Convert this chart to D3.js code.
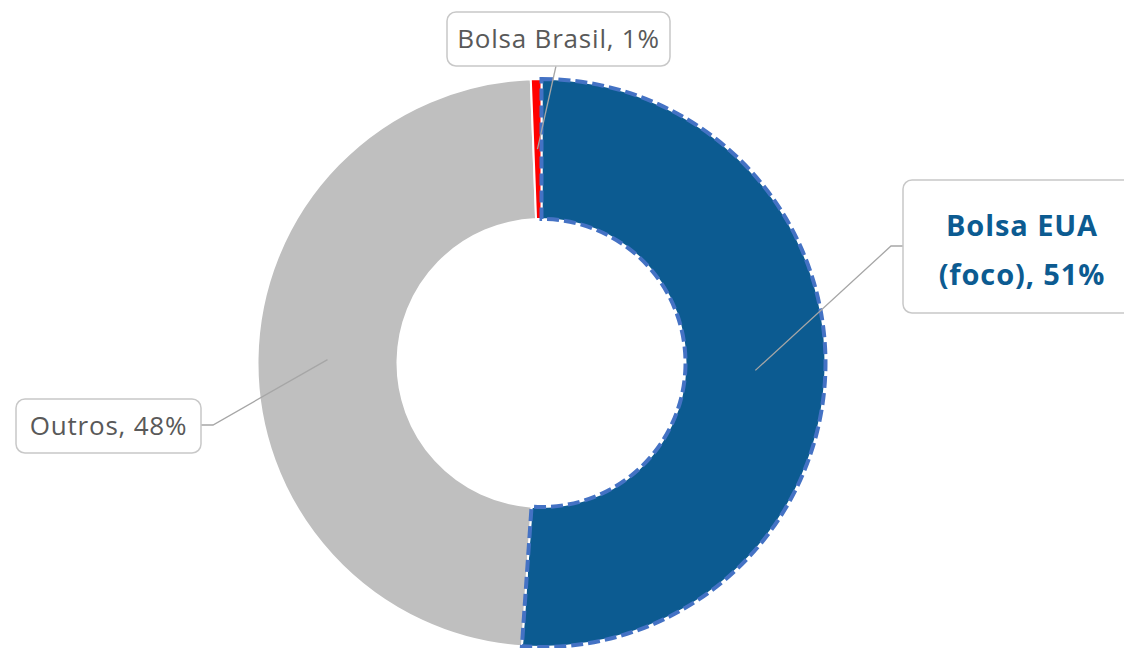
<!DOCTYPE html>
<html>
<head>
<meta charset="utf-8">
<script src="https://cdn.jsdelivr.net/npm/d3@7"></script>
<style>
  body { margin: 0; background: #fff; }
  svg { display: block; font-family: "Open Sans", "Noto Sans", sans-serif; }
</style>
</head>
<body>
<div id="chart"></div>
<script>
// data (clockwise from 12 o'clock)
var categories = ["Bolsa EUA (foco)", "Outros", "Bolsa Brasil"];
var values = [51.1, 48.3, 0.6];
var colors = ["#0c5b91", "#bfbfbf", "#ff0000"];

var width = 1124, height = 648;
var cx = 541.5, cy = 363;
var outerR = 284, innerR = 144;

var svg = d3.select("#chart")
  .append("svg")
  .attr("width", width)
  .attr("height", height);

var g = svg.append("g")
  .attr("transform", "translate(" + cx + "," + cy + ")");

var pie = d3.pie().sort(null).value(function(d) { return d; });
var arc = d3.arc().innerRadius(innerR).outerRadius(outerR);
var arcs = pie(values);

// slices
g.selectAll("path.slice")
  .data(arcs)
  .enter()
  .append("path")
  .attr("class", "slice")
  .attr("d", arc)
  .style("fill", function(d, i) { return colors[i]; })
  .style("stroke", "#fff")
  .style("stroke-width", 2);

// dashed highlight on the focus slice
g.append("path")
  .attr("d", arc(arcs[0]))
  .style("fill", "none")
  .style("stroke", "#4472c4")
  .style("stroke-width", 4)
  .style("stroke-dasharray", "12,5");

// label boxes (x, y, w, h) and where the leader joins the box
var boxes = [
  {x: 903, y: 180, w: 240, h: 133, joinX: 903, joinY: 246, elbowX: 891, bold: true},
  {x: 16, y: 399, w: 185, h: 54, joinX: 201, joinY: 425, elbowX: 213, bold: false},
  {x: 447, y: 12, w: 223, h: 54, joinX: 556, joinY: 66, elbowX: null, bold: false}
];

var labels = svg.append("g");

arcs.forEach(function(a, i) {
  var b = boxes[i];
  var c = arc.centroid(a);
  var px = cx + c[0], py = cy + c[1];
  var pts = [[px, py]];
  if (b.elbowX !== null) pts.push([b.elbowX, b.joinY]);
  pts.push([b.joinX, b.joinY]);

  labels.append("path")
    .attr("d", d3.line()(pts))
    .style("fill", "none")
    .style("stroke", "#a6a6a6")
    .style("stroke-width", 1.3);

  labels.append("rect")
    .attr("x", b.x).attr("y", b.y)
    .attr("width", b.w).attr("height", b.h)
    .attr("rx", 9)
    .style("fill", "#fff")
    .style("stroke", "#c8c8c8")
    .style("stroke-width", 1.5);

  var pct = Math.round(values[i]) + "%";
  var t = labels.append("text")
    .attr("text-anchor", "middle")
    .style("font-size", b.bold ? "29px" : "26px")
    .style("letter-spacing", b.bold ? "0.9px" : "0.8px")
    .style("font-weight", b.bold ? 700 : 400)
    .style("fill", b.bold ? colors[0] : "#595959");

  if (b.bold) {
    t.append("tspan").attr("x", 1022).attr("y", 236).text("Bolsa EUA");
    t.append("tspan").attr("x", 1022).attr("y", 285).text("(foco), " + pct);
  } else {
    t.attr("x", b.x + b.w / 2).attr("y", b.y + b.h / 2 + 9)
      .text(categories[i] + ", " + pct);
  }
});
</script>
</body>
</html>
